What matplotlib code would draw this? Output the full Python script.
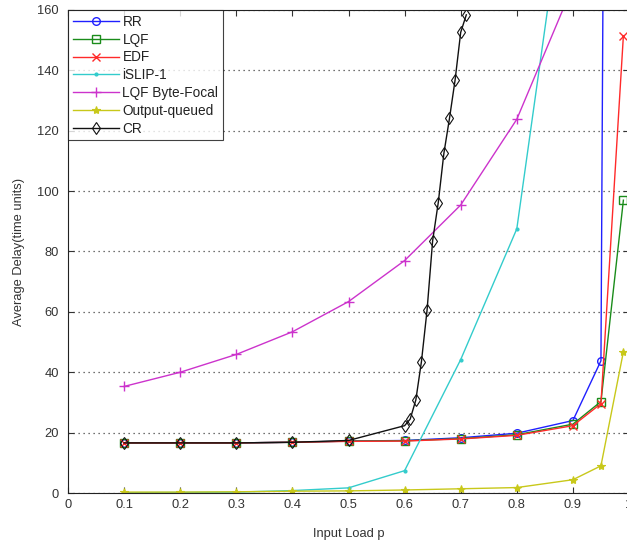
import matplotlib
matplotlib.use("Agg")
import matplotlib.pyplot as plt

plt.rcParams['font.family'] = ['Liberation Sans', 'DejaVu Sans']

# ---- data ----
load = [0.1, 0.2, 0.3, 0.4, 0.5, 0.6, 0.7, 0.8, 0.9, 0.95, 0.99]
rr = [16.6, 16.6, 16.6, 16.8, 17.2, 17.4, 18.3, 19.8, 24.0, 43.8, 1400]
lqf = [16.6, 16.6, 16.6, 16.8, 17.2, 17.3, 18.0, 19.3, 22.8, 30.3, 97]
edf = [16.6, 16.6, 16.6, 16.8, 17.1, 17.2, 17.9, 19.1, 22.3, 29.6, 151.5]
oq = [0.3, 0.3, 0.4, 0.6, 0.7, 1.0, 1.4, 1.8, 4.4, 9.0, 46.8]

load_islip = [0.1, 0.2, 0.3, 0.4, 0.5, 0.6, 0.7, 0.8, 0.9]
islip = [0.1, 0.2, 0.3, 0.8, 1.7, 7.4, 44.2, 87.5, 220]

load_bf = [0.1, 0.2, 0.3, 0.4, 0.5, 0.6, 0.7, 0.8, 0.9]
byte_focal = [35.3, 40.0, 45.9, 53.4, 63.4, 77.0, 95.4, 123.8, 168]

load_cr = [0.1, 0.2, 0.3, 0.4, 0.5, 0.6, 0.61, 0.62, 0.63, 0.64, 0.65,
           0.66, 0.67, 0.68, 0.69, 0.70, 0.71]
cr = [16.6, 16.6, 16.6, 16.8, 17.4, 22.3, 24.5, 30.8, 43.5, 60.5, 83.6,
      96.2, 112.5, 124.1, 136.8, 152.6, 158.4]

xticks = [0, 0.1, 0.2, 0.3, 0.4, 0.5, 0.6, 0.7, 0.8, 0.9, 1]
xticklabels = ['0', '0.1', '0.2', '0.3', '0.4', '0.5', '0.6', '0.7', '0.8', '0.9', '1']
yticks = [0, 20, 40, 60, 80, 100, 120, 140, 160]

# ---- figure ----
fig = plt.figure(figsize=(6.27, 5.45), dpi=100)
ax = fig.add_axes([68/627, 1-493/545, 561/627, 483/545])

lw = 1.0
ms = 5.5
ax.plot(load, rr, color='#2020ff', lw=lw, marker='o', mfc='none', ms=ms, mew=1.0, label='RR')
ax.plot(load, lqf, color='#1a8c1a', lw=lw, marker='s', mfc='none', ms=ms, mew=1.0, label='LQF')
ax.plot(load, edf, color='#ff2a2a', lw=lw, marker='x', ms=ms, mew=1.0, label='EDF')
ax.plot(load_islip, islip, color='#33cccc', lw=lw, marker='.', ms=4, label='iSLIP-1')
ax.plot(load_bf, byte_focal, color='#cc33cc', lw=lw, marker='+', ms=7, mew=1.0, label='LQF Byte-Focal')
ax.plot(load, oq, color='#c8c81a', lw=lw, marker='*', ms=6, mew=0.8, label='Output-queued')
ax.plot(load_cr, cr, color='#111111', lw=lw, marker='d', mfc='none', ms=6, mew=0.8, label='CR')

ax.set_xlim(0, 1)
ax.set_ylim(0, 160)
ax.set_xticks(xticks)
ax.set_xticklabels(xticklabels)
ax.set_yticks(yticks)
ax.yaxis.grid(True, linestyle=(0, (1, 3)), color='#444444', lw=0.9)
ax.tick_params(direction='in', length=4, width=0.8, top=True, right=True,
               labelsize=9.3, labelcolor='#333333', colors='#333333')
ax.tick_params(axis='y', pad=6.5)
ax.tick_params(axis='x', pad=4.5)
for s in ax.spines.values():
    s.set_color('#222222')
    s.set_linewidth(0.8)

ax.set_xlabel('Input Load p', fontsize=9.3, color='#333333', labelpad=12)
ax.set_ylabel('Average Delay(time units)', fontsize=9.3, color='#333333', labelpad=9)

leg = ax.legend(loc='upper left', fontsize=9.8, frameon=True, fancybox=False,
                edgecolor='#111111', borderaxespad=0, handlelength=3.4,
                labelspacing=0.28, borderpad=0.35, handletextpad=0.25)
leg.get_frame().set_linewidth(0.8)
for t in leg.get_texts():
    t.set_color('#222222')

fig.savefig('out.png', dpi=100)
